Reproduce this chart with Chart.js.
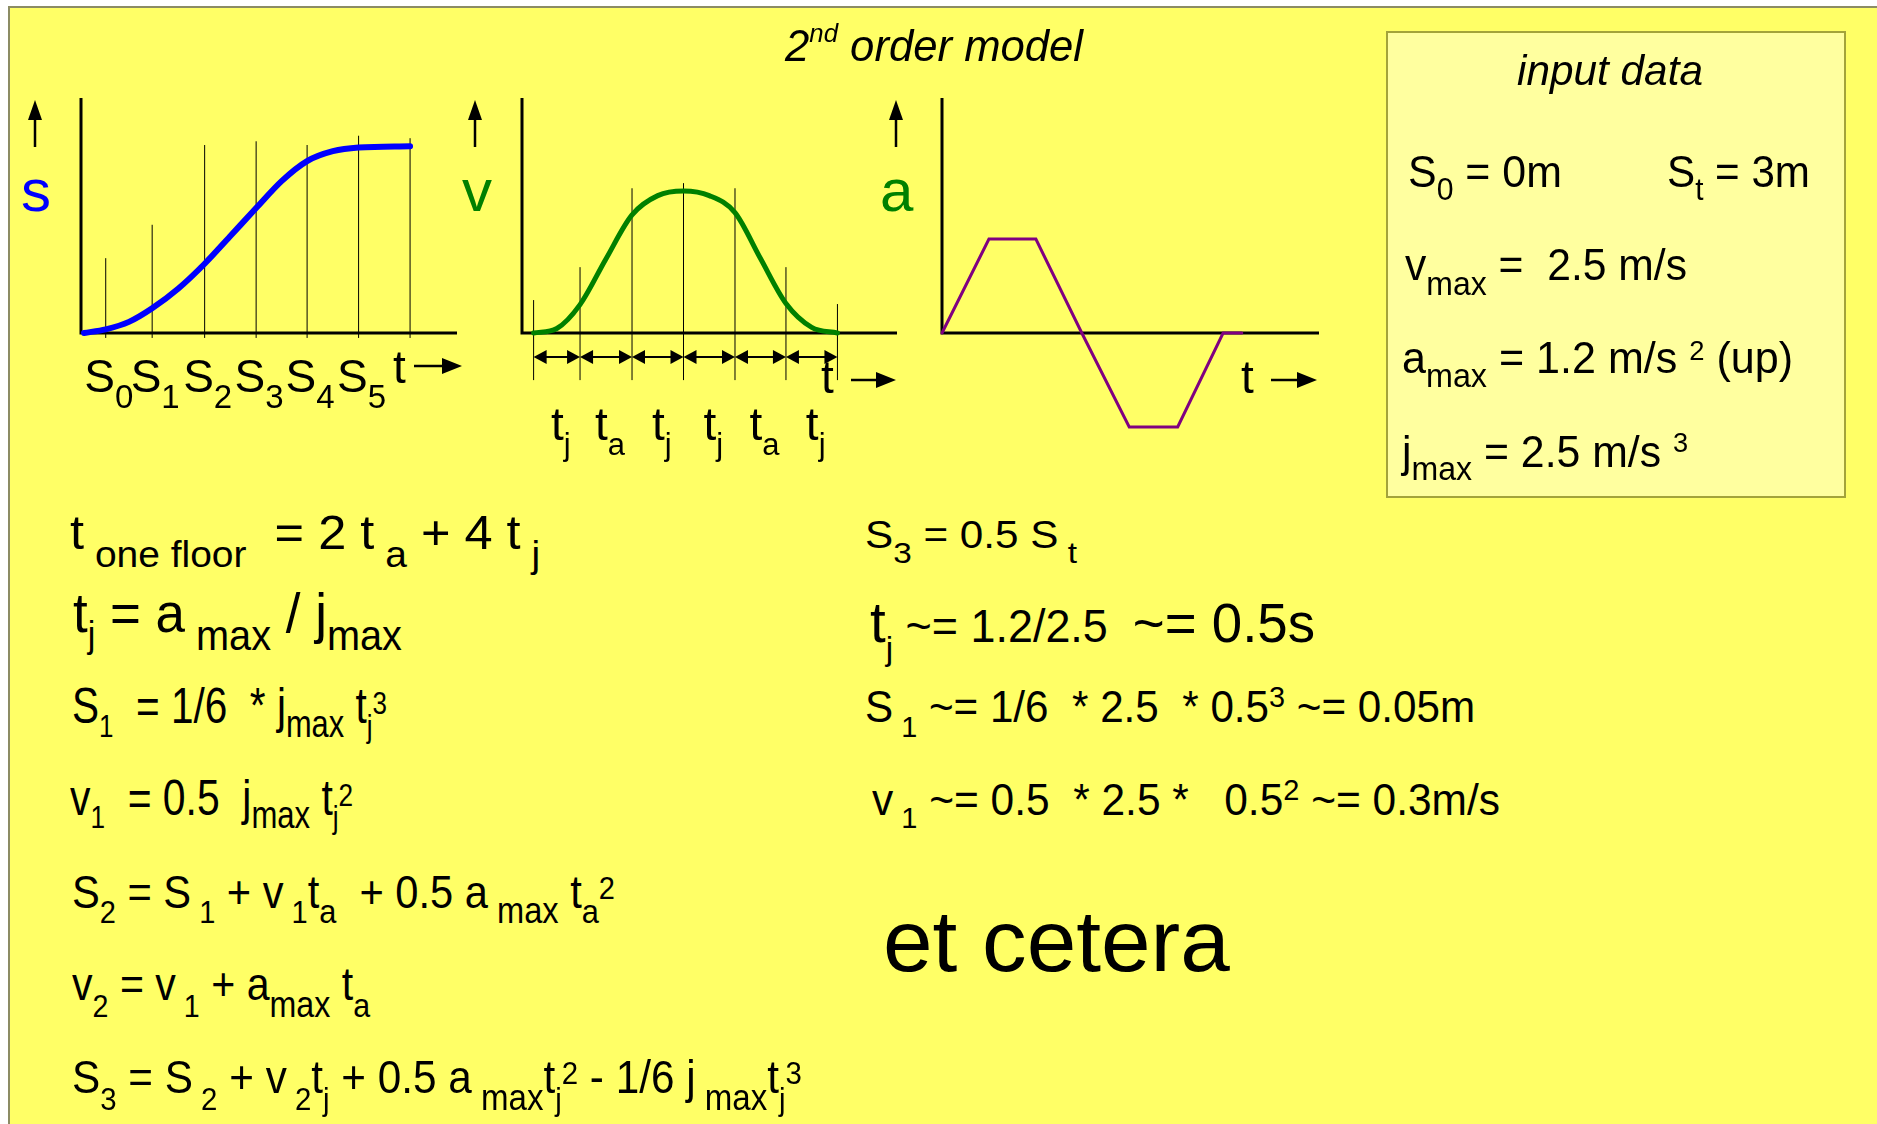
<!DOCTYPE html>
<html>
<head>
<meta charset="utf-8">
<title>2nd order model</title>
<script src="https://cdn.jsdelivr.net/npm/chart.js@4.4.1/dist/chart.umd.min.js"></script>
<style>
  body { margin: 0; background: #fff; }
  #stage { position: relative; width: 1877px; height: 1124px; overflow: hidden;
           font-family: "Liberation Sans", Arial, Helvetica, sans-serif; color: #000; }
  #sheet { position: absolute; left: 8px; top: 6px; right: 0; bottom: 0; background: #ffff66;
           border-left: 2px solid #8c8c64; border-top: 2px solid #8c8c64; }
  #box { position: absolute; left: 1386px; top: 31px; width: 460px; height: 467px; box-sizing: border-box;
         border: 2px solid #a3a33a; background: #ffff9f; }
  canvas { position: absolute; left: 0; top: 0; }
  .txt { position: absolute; left: 0; top: 0; white-space: pre; line-height: 1; font-size: 40px;
         transform-origin: 0 0; }
  .txt.it { font-style: italic; }
  .mark { display: inline-block; width: 0; height: 0; }
</style>
</head>
<body>
<div id="stage">
  <div id="sheet"></div>
  <div id="box"></div>
  <canvas id="sChart" width="1877" height="500"></canvas>
  <canvas id="vChart" width="1877" height="500"></canvas>
  <canvas id="aChart" width="1877" height="500"></canvas>
</div>
<script>
// distance s(t), one floor trip
const sTimes  = [0.06, 0.49, 0.95, 1.41, 1.93, 2.45, 2.95, 3.47, 3.98, 4.48, 4.99, 5.50, 6.52];
const sValues = [0, 0.06, 0.18, 0.40, 0.72, 1.12, 1.56, 2.02, 2.46, 2.78, 2.94, 3.00, 3.02];
const sMarkTimes  = [0.49, 1.41, 2.45, 3.47, 4.48, 5.50, 6.52];
const sMarkTops   = [1.21, 1.75, 3.04, 3.10, 3.04, 3.19, 3.15];
const sMarkLabels = ['0', '1', '2', '3', '4', '5'];

// velocity v(t)
const vTimes  = [0.23, 0.69, 1.15, 1.66, 2.18, 2.69, 3.20, 3.71, 4.22, 4.72, 5.23, 5.74, 6.25];
const vValues = [0, 0.08, 0.50, 1.30, 2.08, 2.42, 2.50, 2.42, 2.12, 1.32, 0.52, 0.10, 0];
const vMarkTimes  = [0.23, 1.15, 2.18, 3.20, 4.22, 5.23, 6.25];
const vMarkTops   = [0.58, 1.16, 2.55, 2.64, 2.55, 1.16, 0.51];
const vMarkBottom = -0.83;
const phaseSubs   = ['j', 'a', 'j', 'j', 'a', 'j'];

// acceleration a(t)
const aTimes  = [0, 0.93, 1.86, 2.77, 3.71, 4.67, 5.57, 5.94];
const aValues = [0, 1.2, 1.2, 0, -1.2, -1.2, 0, 0];

const FONT = '"Liberation Sans", Arial, Helvetica, sans-serif';

//---------- small drawing helpers ----------
function upArrow(ctx, x, tip, base) {
  ctx.lineWidth = 2.5;
  ctx.beginPath(); ctx.moveTo(x, base); ctx.lineTo(x, tip + 14); ctx.stroke();
  ctx.beginPath(); ctx.moveTo(x, tip); ctx.lineTo(x - 7, tip + 20); ctx.lineTo(x + 7, tip + 20);
  ctx.closePath(); ctx.fill();
}
function rightArrow(ctx, x0, x1, y) {
  ctx.lineWidth = 2.5;
  ctx.beginPath(); ctx.moveTo(x0, y); ctx.lineTo(x1 - 14, y); ctx.stroke();
  ctx.beginPath(); ctx.moveTo(x1, y); ctx.lineTo(x1 - 20, y - 8); ctx.lineTo(x1 - 20, y + 8);
  ctx.closePath(); ctx.fill();
}
function spanArrow(ctx, x0, x1, y) {
  ctx.lineWidth = 2;
  ctx.beginPath(); ctx.moveTo(x0 + 8, y); ctx.lineTo(x1 - 8, y); ctx.stroke();
  ctx.beginPath(); ctx.moveTo(x0, y); ctx.lineTo(x0 + 13, y - 7); ctx.lineTo(x0 + 13, y + 7); ctx.closePath(); ctx.fill();
  ctx.beginPath(); ctx.moveTo(x1, y); ctx.lineTo(x1 - 13, y - 7); ctx.lineTo(x1 - 13, y + 7); ctx.closePath(); ctx.fill();
}
// runs: [text, size, dy]; drawn centred on cx
function drawRuns(ctx, cx, y, runs) {
  let w = 0;
  runs.forEach(r => { ctx.font = r[1] + 'px ' + FONT; w += ctx.measureText(r[0]).width; });
  let x = cx - w / 2;
  runs.forEach(r => {
    ctx.font = r[1] + 'px ' + FONT;
    ctx.fillText(r[0], x, y + r[2]);
    x += ctx.measureText(r[0]).width;
  });
}

//---------- chart plumbing ----------
const axesPlugin = {
  id: 'axes',
  beforeDatasetsDraw(chart) {
    const { ctx, chartArea: a } = chart;
    const y0 = chart.scales.y.getPixelForValue(0);
    ctx.save();
    ctx.strokeStyle = '#000';
    ctx.lineWidth = 3;
    ctx.beginPath();
    ctx.moveTo(a.left, a.top);
    ctx.lineTo(a.left, y0);
    ctx.lineTo(a.right, y0);
    ctx.stroke();
    ctx.restore();
  }
};

function labelPlugin(draw) {
  return {
    id: 'labels',
    afterDraw(chart) {
      const ctx = chart.ctx;
      ctx.save();
      ctx.fillStyle = '#000';
      ctx.strokeStyle = '#000';
      ctx.textBaseline = 'alphabetic';
      draw(ctx, chart.scales.x, chart.scales.y, chart.chartArea);
      ctx.restore();
    }
  };
}

function curve(times, values, color, width, smooth) {
  return {
    data: times.map((t, i) => ({ x: t, y: values[i] })),
    showLine: true, borderColor: color, borderWidth: width, pointRadius: 0,
    cubicInterpolationMode: smooth ? 'monotone' : 'default',
    borderCapStyle: 'round', borderJoinStyle: smooth ? 'round' : 'miter', clip: false
  };
}
function markLines(times, tops, bottom) {
  return times.map((t, i) => ({
    data: [{ x: t, y: bottom }, { x: t, y: tops[i] }],
    showLine: true, borderColor: '#000', borderWidth: 1, pointRadius: 0, clip: false
  }));
}

function makeChart(id, pad, xMax, yMax, datasets, labels) {
  return new Chart(document.getElementById(id), {
    type: 'scatter',
    data: { datasets },
    options: {
      responsive: false, animation: false, events: [],
      layout: { padding: pad },
      plugins: { legend: { display: false }, tooltip: { enabled: false } },
      scales: {
        x: { type: 'linear', display: false, min: 0, max: xMax },
        y: { type: 'linear', display: false, min: 0, max: yMax }
      }
    },
    plugins: [axesPlugin, labelPlugin(labels)]
  });
}

//---------- s chart ----------
makeChart('sChart', { left: 81, right: 1420, top: 98, bottom: 167 }, 7.45, 3.8,
  [curve(sTimes, sValues, '#0000ff', 6, true)].concat(markLines(sMarkTimes, sMarkTops, -0.08)),
  (ctx, xs, ys, area) => {
    const axis = ys.getPixelForValue(0);
    upArrow(ctx, area.left - 46, area.top + 2, area.top + 49);
    sMarkLabels.forEach((lab, i) =>
      drawRuns(ctx, xs.getPixelForValue(sMarkTimes[i]) + 3, axis + 59, [['S', 46, 0], [lab, 33, 16]]));
    ctx.font = '46px ' + FONT;
    ctx.fillText('t', xs.getPixelForValue(sMarkTimes[6]) - 17, axis + 50);
    rightArrow(ctx, area.right - 43, area.right + 5, axis + 33);
    ctx.fillStyle = '#0000ff';
    ctx.font = '60px ' + FONT;
    ctx.fillText('s', area.left - 60, area.top + 113);
  });

//---------- v chart ----------
makeChart('vChart', { left: 522, right: 980, top: 98, bottom: 167 }, 7.43, 4.14,
  [curve(vTimes, vValues, '#008000', 5, true)].concat(markLines(vMarkTimes, vMarkTops, vMarkBottom)),
  (ctx, xs, ys, area) => {
    const axis = ys.getPixelForValue(0);
    upArrow(ctx, area.left - 47, area.top + 2, area.top + 49);
    for (let i = 0; i < phaseSubs.length; i++) {
      const x0 = xs.getPixelForValue(vMarkTimes[i]);
      const x1 = xs.getPixelForValue(vMarkTimes[i + 1]);
      spanArrow(ctx, x0, x1, axis + 24);
      drawRuns(ctx, (x0 + x1) / 2 + 4, axis + 107, [['t', 46, 0], [phaseSubs[i], 31, 15]]);
    }
    ctx.font = '46px ' + FONT;
    ctx.fillText('t', area.right - 76, axis + 60);
    rightArrow(ctx, area.right - 46, area.right - 1, axis + 47);
    ctx.fillStyle = '#008000';
    ctx.font = '60px ' + FONT;
    ctx.fillText('v', area.left - 60, area.top + 113);
  });

//---------- a chart ----------
makeChart('aChart', { left: 942, right: 558, top: 98, bottom: 167 }, 7.47, 3.0,
  [curve(aTimes, aValues, '#800080', 3, false)],
  (ctx, xs, ys, area) => {
    const axis = ys.getPixelForValue(0);
    upArrow(ctx, area.left - 46, area.top + 2, area.top + 49);
    ctx.font = '46px ' + FONT;
    ctx.fillText('t', area.right - 78, axis + 60);
    rightArrow(ctx, area.right - 48, area.right - 2, axis + 47);
    ctx.fillStyle = '#008000';
    ctx.font = '60px ' + FONT;
    ctx.fillText('a', area.left - 62, area.top + 113);
  });

//---------- formula text ----------
// each line: left edge, baseline, right edge, runs of [text, size, baseline shift]
const textLines = [
  { x: 785, y: 61, x2: 1083, it: true, runs: [['2', 44], ['nd', 26, -19], [' order model', 44]] },
  { x: 70, y: 549, x2: 540, runs: [['t', 48], [' one floor', 37, 18], ['  = 2 t', 48], [' a', 37, 18], [' + 4 t', 48], [' j', 37, 18]] },
  { x: 73, y: 632, x2: 402, runs: [['t', 56], ['j', 36, 15], [' = a', 56], [' max', 42, 18], [' / j', 56], ['max', 42, 18]] },
  { x: 72, y: 723, x2: 387, runs: [['S', 50], ['1', 32, 14], ['  = 1/6  * j', 50], ['max', 38, 14], [' t', 50], ['j', 32, 14], ['3', 32, -9]] },
  { x: 70, y: 815, x2: 353, runs: [['v', 50], ['1', 32, 13], ['  = 0.5  j', 50], ['max', 38, 13], [' t', 50], ['j', 32, 13], ['2', 32, -9]] },
  { x: 72, y: 908, x2: 615, runs: [['S', 46], ['2', 32, 15], [' = S', 46], [' 1', 32, 15], [' + v', 46], [' 1', 32, 15], ['t', 46], ['a', 34, 15],
      ['  + 0.5 a', 46], [' max', 36, 15], [' t', 46], ['a', 34, 15], ['2', 32, -9]] },
  { x: 72, y: 1000, x2: 370, runs: [['v', 46], ['2', 32, 17], [' = v', 46], [' 1', 32, 17], [' + a', 46], ['max', 36, 17], [' t', 46], ['a', 34, 17]] },
  { x: 72, y: 1093, x2: 802, runs: [['S', 46], ['3', 32, 17], [' = S', 46], [' 2', 32, 17], [' + v', 46], [' 2', 32, 17], ['t', 46], ['j', 32, 17],
      [' + 0.5 a', 46], [' max', 36, 17], ['t', 46], ['j', 32, 17], ['2', 32, -9], [' - 1/6 j', 46], [' max', 36, 17], ['t', 46], ['j', 32, 17], ['3', 32, -9]] },
  { x: 865, y: 548, x2: 1077, runs: [['S', 38], ['3', 30, 15], [' = 0.5 S', 38], [' t', 30, 15]] },
  { x: 870, y: 642, x2: 1315, runs: [['t', 58], ['j', 34, 18], [' ~= 1.2/2.5  ', 46], ['~= 0.5s', 56]] },
  { x: 865, y: 722, x2: 1475, runs: [['S', 44], [' 1', 30, 15], [' ~= 1/6  * 2.5  * 0.5', 44], ['3', 30, -15], [' ~= 0.05m', 44]] },
  { x: 872, y: 815, x2: 1500, runs: [['v', 44], [' 1', 30, 13], [' ~= 0.5  * 2.5 *   0.5', 44], ['2', 30, -15], [' ~= 0.3m/s', 44]] },
  { x: 883, y: 971, x2: 1230, runs: [['et cetera', 88]] },
  // input data box
  { x: 1517, y: 85, x2: 1703, it: true, runs: [['input data', 42]] },
  { x: 1408, y: 187, x2: 1562, runs: [['S', 44], ['0', 31, 13], [' = 0m', 44]] },
  { x: 1667, y: 187, x2: 1810, runs: [['S', 44], ['t', 31, 13], [' = 3m', 44]] },
  { x: 1405, y: 280, x2: 1687, runs: [['v', 44], ['max', 33, 15], [' =  2.5 m/s', 44]] },
  { x: 1402, y: 373, x2: 1793, runs: [['a', 44], ['max', 33, 14], [' = 1.2 m/s ', 44], ['2', 28, -13], [' (up)', 44]] },
  { x: 1402, y: 467, x2: 1688, runs: [['j', 44], ['max', 33, 13], [' = 2.5 m/s ', 44], ['3', 28, -15]] }
];

const stage = document.getElementById('stage');
textLines.forEach(line => {
  const el = document.createElement('div');
  el.className = line.it ? 'txt it' : 'txt';
  line.runs.forEach(r => {
    const s = document.createElement('span');
    s.textContent = r[0];
    s.style.fontSize = r[1] + 'px';
    if (r[2]) { s.style.position = 'relative'; s.style.top = r[2] + 'px'; }
    el.appendChild(s);
  });
  const mark = document.createElement('span');
  mark.className = 'mark';
  el.appendChild(mark);
  stage.appendChild(el);
  // put the baseline where it belongs, then stretch to the line's width
  const base = mark.getBoundingClientRect().bottom - stage.getBoundingClientRect().top;
  const w = el.getBoundingClientRect().width;
  el.style.left = line.x + 'px';
  el.style.top = (line.y - base) + 'px';
  el.style.transform = 'scaleX(' + ((line.x2 - line.x) / w).toFixed(3) + ')';
});
</script>
</body>
</html>
